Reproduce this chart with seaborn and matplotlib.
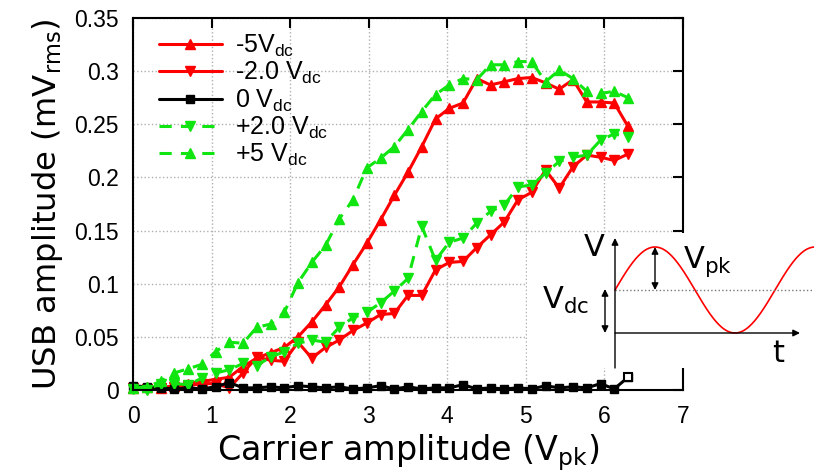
import numpy as np
import matplotlib
matplotlib.use('Agg')
import matplotlib.pyplot as plt
from matplotlib.ticker import FuncFormatter, MultipleLocator
import seaborn as sns

# carrier amplitude (V_pk)
carrier = [0.0, 0.175, 0.35, 0.525, 0.7, 0.875, 1.05, 1.225, 1.4, 1.575, 1.75, 1.925,
           2.1, 2.275, 2.45, 2.625, 2.8, 2.975, 3.15, 3.325, 3.5, 3.675, 3.85, 4.025,
           4.2, 4.375, 4.55, 4.725, 4.9, 5.075, 5.25, 5.425, 5.6, 5.775, 5.95, 6.125, 6.3]

# USB amplitude (mV_rms) for each dc offset
usb_m5 = [0.002, 0.003, 0.002, 0.004, 0.006, 0.008, 0.010, 0.012, 0.022, 0.030, 0.035, 0.040,
          0.050, 0.064, 0.080, 0.097, 0.118, 0.138, 0.160, 0.183, 0.205, 0.229, 0.255, 0.265,
          0.270, 0.293, 0.287, 0.290, 0.293, 0.294, 0.289, 0.283, 0.292, 0.271, 0.271, 0.270, 0.248]
usb_m2 = [0.002, 0.001, 0.002, 0.003, 0.004, 0.006, 0.006, 0.002, 0.016, 0.031, 0.028, 0.027,
          0.045, 0.030, 0.040, 0.047, 0.056, 0.063, 0.071, 0.072, 0.089, 0.089, 0.113, 0.120,
          0.121, 0.134, 0.146, 0.158, 0.179, 0.186, 0.207, 0.190, 0.210, 0.221, 0.219, 0.216, 0.222]
usb_0 = [0.004, 0.003, 0.002, 0.001, 0.002, 0.001, 0.003, 0.007, 0.002, 0.002, 0.003, 0.002,
         0.004, 0.003, 0.002, 0.003, 0.001, 0.002, 0.004, 0.001, 0.003, 0.001, 0.002, 0.002,
         0.005, 0.001, 0.002, 0.001, 0.002, 0.001, 0.004, 0.002, 0.003, 0.002, 0.006, 0.001, 0.012]
usb_p2 = [0.001, 0.000, 0.006, 0.006, 0.005, 0.011, 0.016, 0.019, 0.025, 0.023, 0.031, 0.036,
          0.044, 0.047, 0.045, 0.059, 0.068, 0.073, 0.082, 0.093, 0.105, 0.154, 0.122, 0.139,
          0.143, 0.157, 0.168, 0.174, 0.191, 0.193, 0.204, 0.215, 0.219, 0.221, 0.235, 0.241, 0.238]
usb_p5 = [0.002, 0.003, 0.008, 0.016, 0.020, 0.024, 0.036, 0.045, 0.044, 0.059, 0.062, 0.073,
          0.101, 0.120, 0.136, 0.161, 0.179, 0.209, 0.218, 0.229, 0.245, 0.262, 0.278, 0.287,
          0.293, 0.292, 0.306, 0.306, 0.309, 0.309, 0.290, 0.301, 0.293, 0.281, 0.279, 0.281, 0.275]

labels = [r'-5V$_{\mathregular{dc}}$', r'-2.0 V$_{\mathregular{dc}}$', r'0 V$_{\mathregular{dc}}$',
          r'+2.0 V$_{\mathregular{dc}}$', r'+5 V$_{\mathregular{dc}}$']

red = '#ff0000'
green = '#11e511'
dash = (0, (4, 3))
series = [
    (labels[0], usb_m5, red, '^', '-', 7.5),
    (labels[1], usb_m2, red, 'v', '-', 7.5),
    (labels[2], usb_0, 'black', 's', '-', 5.5),
    (labels[3], usb_p2, green, 'v', dash, 7.5),
    (labels[4], usb_p5, green, '^', dash, 7.5),
]

sns.set_style('white')
plt.rcParams['font.family'] = ['Liberation Sans', 'DejaVu Sans']
plt.rcParams['text.color'] = 'black'
plt.rcParams['axes.labelcolor'] = 'black'

fig = plt.figure(figsize=(8.14, 4.74), dpi=100)
ax = fig.add_axes([133 / 814, 84 / 474, 550 / 814, 372 / 474])

for label, vals, color, marker, ls, ms in series:
    sns.lineplot(x=carrier, y=vals, ax=ax, color=color, marker=marker, linestyle=ls,
                 lw=2.2, markersize=ms, mec=color, mew=1, label=label, legend=False,
                 clip_on=False)
# last point of the 0 V_dc run is drawn hollow
ax.plot(carrier[-1], usb_0[-1], 's', ms=5.5, mfc='white', mec='black', mew=1.5, zorder=5)

ax.set_xlim(0, 7)
ax.set_ylim(0, 0.35)
ax.xaxis.set_major_locator(MultipleLocator(1))
ax.yaxis.set_major_locator(MultipleLocator(0.05))
ax.yaxis.set_major_formatter(FuncFormatter(lambda v, p: '%g' % round(v, 3)))
ax.grid(True, linestyle=':', color='#b0b0b0', lw=1)
ax.tick_params(direction='in', length=7, width=1.5, top=True, right=True,
               labelsize=16.5, colors='black')
ax.tick_params(axis='x', pad=11)
ax.tick_params(axis='y', pad=10)
for s in ax.spines.values():
    s.set_linewidth(1.5)
    s.set_color('black')

ax.set_xlabel(r'Carrier amplitude (V$_{\mathregular{pk}}$)', fontsize=24,
              family='DejaVu Sans', labelpad=3, color='black')
ax.set_ylabel(r'USB amplitude (mV$_{\mathregular{rms}}$)', fontsize=23.2,
              family='DejaVu Sans', labelpad=7, color='black')

ax.legend(loc='upper left', frameon=False, prop={'family': 'Liberation Sans', 'size': 18},
          handlelength=2.5, handletextpad=0.55, labelspacing=0.04,
          borderaxespad=0.2, bbox_to_anchor=(0.02, 1.0))

# schematic of the drive signal
ins = fig.add_axes([527 / 814, (474 - 368) / 474, 287 / 814, 135 / 474])
ins.set_facecolor('white')
ins.set_xlim(0, 287)
ins.set_ylim(0, 135)
ins.set_xticks([])
ins.set_yticks([])
for s in ins.spines.values():
    s.set_visible(False)

t = np.linspace(88, 287, 300)
ins.plot(t, 78 + 43 * np.sin(2 * np.pi * (t - 88) / 160), color=red, lw=1.2)
ins.plot([88, 287], [78, 78], ls=':', color='#777777', lw=1)
arr = dict(arrowstyle='-|>', color='black', lw=1, mutation_scale=10, shrinkA=0, shrinkB=0)
dbl = dict(arrowstyle='<|-|>', color='black', lw=1, mutation_scale=10, shrinkA=0, shrinkB=0)
ins.annotate('', xy=(88, 130), xytext=(88, 0), arrowprops=arr)
ins.annotate('', xy=(273, 35), xytext=(88, 35), arrowprops=arr)
ins.annotate('', xy=(128, 121), xytext=(128, 78), arrowprops=dbl)
ins.annotate('', xy=(78, 79), xytext=(78, 35), arrowprops=dbl)
ins.text(67, 121, 'V', fontsize=22, family='DejaVu Sans', ha='center', va='center')
ins.text(156, 106, r'V$_{\mathregular{pk}}$', fontsize=22, family='DejaVu Sans', ha='left', va='center')
ins.text(15, 68, r'V$_{\mathregular{dc}}$', fontsize=22, family='DejaVu Sans', ha='left', va='center')
ins.text(251, 14, 't', fontsize=22, family='DejaVu Sans', ha='center', va='center')

fig.savefig('out.png', dpi=100)
